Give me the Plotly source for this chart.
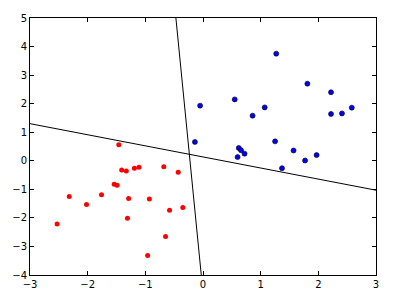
import plotly.graph_objects as go

red_x = [-1.46, -1.41, -1.33, -1.19, -1.11, -0.68, -0.43, -1.54, -1.49, -2.32,
         -1.76, -1.29, -0.93, -2.02, -0.58, -0.35, -2.53, -1.31, -0.65, -0.96]
red_y = [0.56, -0.32, -0.36, -0.26, -0.23, -0.21, -0.40, -0.82, -0.86, -1.25,
         -1.19, -1.32, -1.34, -1.53, -1.73, -1.64, -2.21, -2.01, -2.65, -3.32]

blue_x = [1.27, 1.81, 2.22, 0.55, -0.05, 1.07, 2.58, 0.86, 2.22, 2.41,
          -0.14, 1.25, 0.62, 0.66, 0.72, 0.60, 1.57, 1.97, 1.77, 1.37]
blue_y = [3.75, 2.70, 2.40, 2.15, 1.93, 1.87, 1.86, 1.58, 1.64, 1.66,
          0.66, 0.68, 0.45, 0.37, 0.25, 0.13, 0.36, 0.20, 0.01, -0.26]

line1_x = [-3, 3]
line1_y = [1.30, -1.03]
line2_x = [-0.47, -0.03]
line2_y = [5, -4]

x_ticks = [-3, -2, -1, 0, 1, 2, 3]
y_ticks = [-4, -3, -2, -1, 0, 1, 2, 3, 4, 5]

fig = go.Figure()
fig.add_trace(go.Scatter(x=line1_x, y=line1_y, mode="lines",
                         line=dict(color="black", width=1)))
fig.add_trace(go.Scatter(x=line2_x, y=line2_y, mode="lines",
                         line=dict(color="black", width=1)))
fig.add_trace(go.Scatter(x=red_x, y=red_y, mode="markers",
                         marker=dict(color="#ff0000", size=5, line=dict(width=0))))
fig.add_trace(go.Scatter(x=blue_x, y=blue_y, mode="markers",
                         marker=dict(color="#0000ff", size=5, line=dict(color="black", width=0.6))))

axis_common = dict(showgrid=False, zeroline=False, showline=True, linecolor="black",
                   linewidth=1, mirror="ticks", ticks="inside", ticklen=4,
                   tickcolor="black", tickfont=dict(family="DejaVu Sans", size=10, color="black"))

fig.update_layout(
    width=400, height=302,
    margin=dict(l=30, r=24, t=15, b=17),
    paper_bgcolor="white", plot_bgcolor="white",
    showlegend=False,
    xaxis=dict(range=[-3, 3], tickvals=x_ticks, **axis_common),
    yaxis=dict(range=[-4, 5], tickvals=y_ticks, **axis_common),
)

fig.write_html("out.html")
